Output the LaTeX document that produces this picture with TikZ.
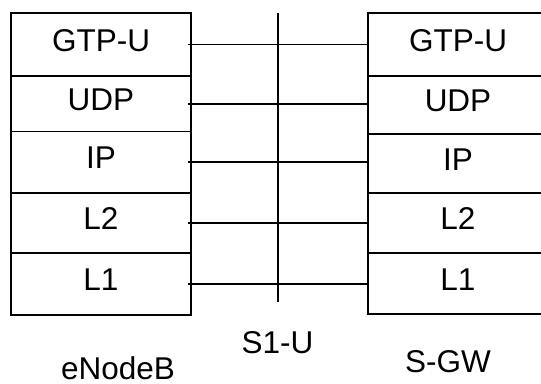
\documentclass[tikz,border=0pt]{standalone}
\usepackage{fontspec}
\setmainfont{Liberation Sans}
\usetikzlibrary{positioning}
\tikzset{
  layer/.style={draw, line width=1.7pt, minimum width=180pt, outer sep=0pt,
    inner sep=0pt, text height=22pt, text depth=9pt,
    font=\fontsize{31.5}{31.5}\selectfont},
  unitlabel/.style={inner sep=0pt, font=\fontsize{31.5}{31.5}\selectfont},
  link/.style={line width=1.7pt}
}
\begin{document}
\begin{tikzpicture}[x=1pt,y=-1pt]
        \useasboundingbox (0,0) rectangle (541,383);
        %% eNodeB stack
        \node[layer, minimum height=63pt, anchor=north west] (eGtp) at (11,13) {GTP-U};
        \node[layer, minimum height=55.5pt, below=0pt of eGtp] (eUdp) {UDP};
        \node[layer, minimum height=61.5pt, below=0pt of eUdp] (eIp) {IP};
        \node[layer, minimum height=60pt, below=0pt of eIp] (eL2) {L2};
        \node[layer, minimum height=62pt, below=0pt of eL2] (eL1) {L1};
        %% S-GW stack
        \node[layer, minimum height=63pt, anchor=north west] (sGtp) at (368,13) {GTP-U};
        \node[layer, minimum height=58pt, below=0pt of sGtp] (sUdp) {UDP};
        \node[layer, minimum height=59pt, below=0pt of sUdp] (sIp) {IP};
        \node[layer, minimum height=60pt, below=0pt of sIp] (sL2) {L2};
        \node[layer, minimum height=61pt, below=0pt of sL2] (sL1) {L1};
        %% Interface
        \coordinate (s1top) at (278,13);
        \coordinate (s1bot) at (278,302);
        \draw[link] (s1top) -- (s1bot);
        \draw[link] ([xshift=-3pt]eGtp.east) -- (eGtp.east -| sGtp.west);
        \draw[link] ([xshift=-3pt]eUdp.east) -- (eUdp.east -| sUdp.west);
        \draw[link] ([xshift=-3pt]eIp.east) -- (eIp.east -| sIp.west);
        \draw[link] ([xshift=-3pt]eL2.east) -- (eL2.east -| sL2.west);
        \draw[link] ([xshift=-3pt]eL1.east) -- (eL1.east -| sL1.west);
        %% Names
        \node[unitlabel] (enb) at (118,368) {eNodeB};
        \node[unitlabel] (s1u) at (277.5,343) {S1-U};
        \node[unitlabel] (sgw) at (448,362) {S-GW};
    \end{tikzpicture}
\end{document}
